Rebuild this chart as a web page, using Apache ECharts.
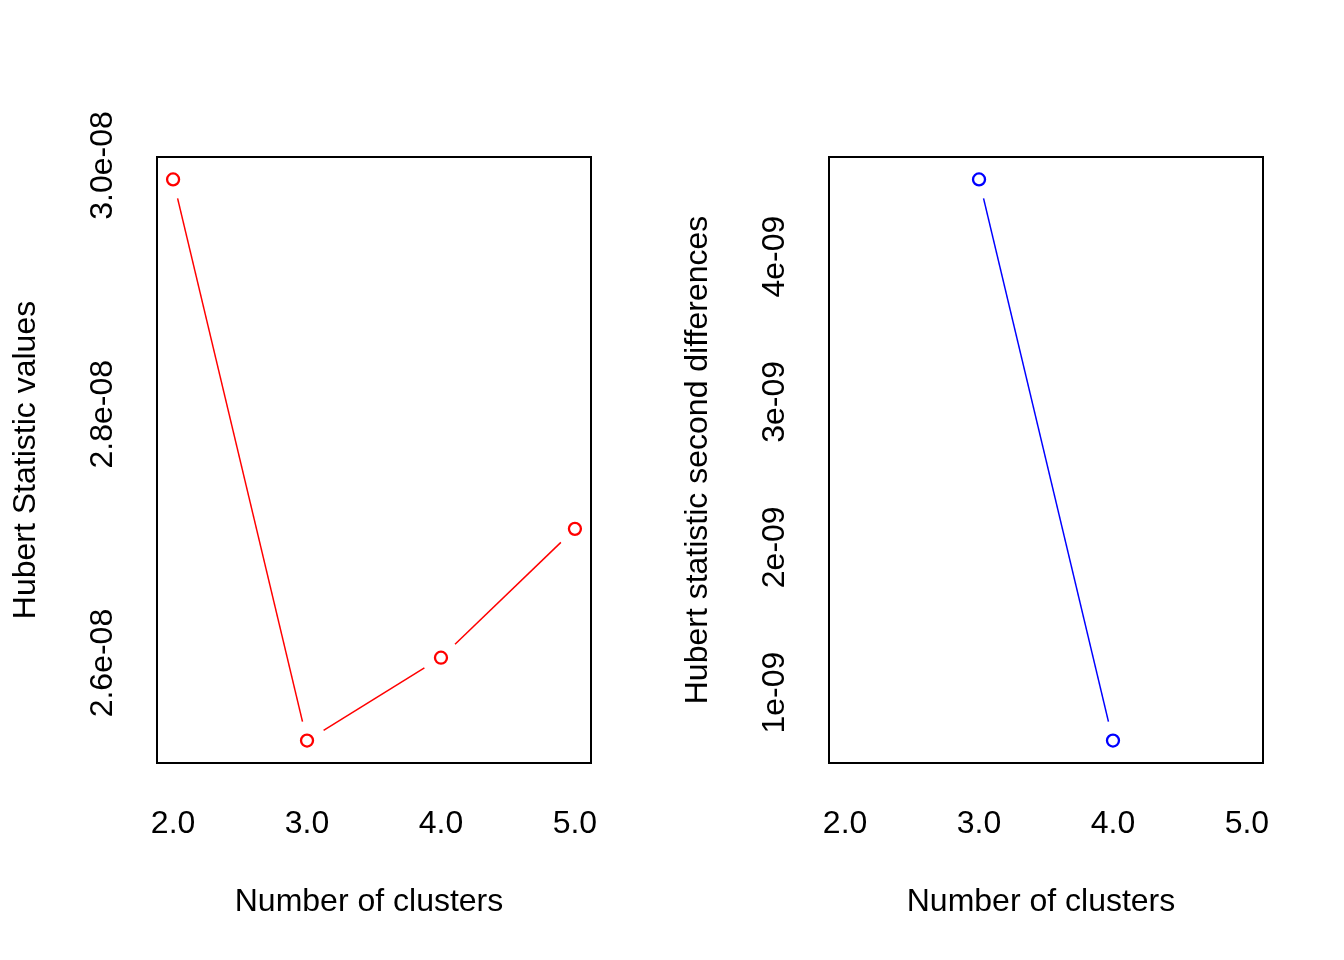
<!DOCTYPE html>
<html>
<head>
<meta charset="utf-8">
<script src="https://cdn.jsdelivr.net/npm/echarts@6/dist/echarts.min.js"></script>
<style>
html,body{margin:0;padding:0;background:#fff;}
#main{width:1344px;height:960px;}
</style>
</head>
<body>
<div id="main"></div>
<script>
// ---- data ----
const clusters = [2, 3, 4, 5];
const hubertValues = [2.9888e-8, 2.5377e-8, 2.6043e-8, 2.7079e-8];
const diffClusters = [3, 4];
const hubertSecondDiff = [4.531e-9, 0.670e-9];
const xTickValues = [2, 3, 4, 5];
const xTickLabels = ['2.0', '3.0', '4.0', '5.0'];
const leftTickValues = [2.6e-8, 2.8e-8, 3.0e-8];
const leftTickLabels = ['2.6e-08', '2.8e-08', '3.0e-08'];
const rightTickValues = [1e-9, 2e-9, 3e-9, 4e-9];
const rightTickLabels = ['1e-09', '2e-09', '3e-09', '4e-09'];
const xTitle = 'Number of clusters';
const leftTitle = 'Hubert Statistic values';
const rightTitle = 'Hubert statistic second differences';

// ---- helpers ----
const FONT = "'Liberation Sans', Arial, sans-serif";
const FS = 32;
function padRange(vals) {
  const lo = Math.min(...vals), hi = Math.max(...vals);
  const p = (hi - lo) * 0.04;
  return [lo - p, hi + p];
}
function labelFor(values, labels) {
  return function (v) {
    let best = 0, bd = Infinity;
    values.forEach((t, i) => { const d = Math.abs(t - v); if (d < bd) { bd = d; best = i; } });
    return labels[best];
  };
}
function segments(xs, ys) {
  const out = [];
  for (let i = 0; i < xs.length - 1; i++) out.push([xs[i], ys[i], xs[i + 1], ys[i + 1]]);
  return out;
}
const GAP = 19.5;
function gappedLine(color) {
  return function (params, api) {
    const a = api.coord([api.value(0), api.value(1)]);
    const b = api.coord([api.value(2), api.value(3)]);
    const dx = b[0] - a[0], dy = b[1] - a[1];
    const len = Math.sqrt(dx * dx + dy * dy);
    if (len <= 2 * GAP) return null;
    const ux = dx / len, uy = dy / len;
    return {
      type: 'line',
      shape: { x1: a[0] + ux * GAP, y1: a[1] + uy * GAP, x2: b[0] - ux * GAP, y2: b[1] - uy * GAP },
      style: { stroke: color, lineWidth: 1.5 }
    };
  };
}
const xRange = padRange(xTickValues);
const leftRange = padRange(hubertValues);
const rightRange = padRange(hubertSecondDiff);

function xAxis(gridIndex) {
  return {
    type: 'value', gridIndex, min: xRange[0], max: xRange[1],
    axisLine: { show: false }, axisTick: { show: false }, splitLine: { show: false },
    axisLabel: { customValues: xTickValues, formatter: labelFor(xTickValues, xTickLabels),
      fontFamily: FONT, fontSize: FS, color: '#000', margin: 45 },
    name: xTitle, nameLocation: 'middle', nameGap: 123,
    nameTextStyle: { fontFamily: FONT, fontSize: FS, color: '#000', padding: [0, 10, 0, 0] }
  };
}
function yAxis(gridIndex, range, vals, labs, title) {
  return {
    type: 'value', gridIndex, min: range[0], max: range[1],
    axisLine: { show: false }, axisTick: { show: false }, splitLine: { show: false },
    axisLabel: { customValues: vals, formatter: labelFor(vals, labs), rotate: 90,
      fontFamily: FONT, fontSize: FS, color: '#000', margin: 38 },
    name: title, nameLocation: 'middle', nameGap: 115,
    nameTextStyle: { fontFamily: FONT, fontSize: FS, color: '#000' }
  };
}

const chart = echarts.init(document.getElementById('main'));
chart.setOption({
  animation: false,
  backgroundColor: '#fff',
  grid: [
    { left: 157, top: 157, width: 434, height: 606, show: true, borderColor: '#000', borderWidth: 2, backgroundColor: 'transparent' },
    { left: 829, top: 157, width: 434, height: 606, show: true, borderColor: '#000', borderWidth: 2, backgroundColor: 'transparent' }
  ],
  xAxis: [xAxis(0), xAxis(1)],
  yAxis: [
    yAxis(0, leftRange, leftTickValues, leftTickLabels, leftTitle),
    yAxis(1, rightRange, rightTickValues, rightTickLabels, rightTitle)
  ],
  series: [
    { type: 'custom', xAxisIndex: 0, yAxisIndex: 0, renderItem: gappedLine('#FF0000'),
      data: segments(clusters, hubertValues), encode: { x: [0, 2], y: [1, 3] }, silent: true },
    { type: 'scatter', xAxisIndex: 0, yAxisIndex: 0, symbol: 'circle', symbolSize: 12,
      itemStyle: { color: 'transparent', borderColor: '#FF0000', borderWidth: 2.3, opacity: 1 },
      data: clusters.map((c, i) => [c, hubertValues[i]]) },
    { type: 'custom', xAxisIndex: 1, yAxisIndex: 1, renderItem: gappedLine('#0000FF'),
      data: segments(diffClusters, hubertSecondDiff), encode: { x: [0, 2], y: [1, 3] }, silent: true },
    { type: 'scatter', xAxisIndex: 1, yAxisIndex: 1, symbol: 'circle', symbolSize: 12,
      itemStyle: { color: 'transparent', borderColor: '#0000FF', borderWidth: 2.3, opacity: 1 },
      data: diffClusters.map((c, i) => [c, hubertSecondDiff[i]]) }
  ]
});
</script>
</body>
</html>
